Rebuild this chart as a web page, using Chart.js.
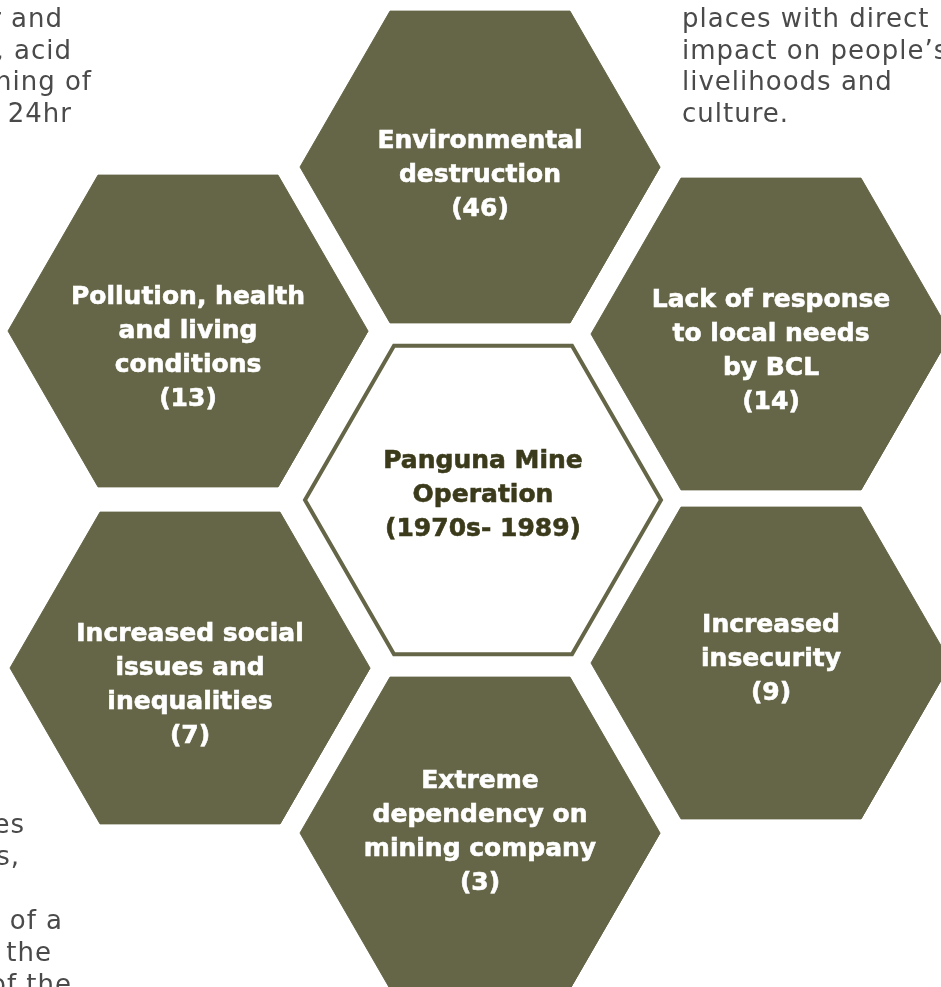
<!DOCTYPE html>
<html>
<head>
<meta charset="utf-8">
<script src="https://cdn.jsdelivr.net/npm/chart.js@4.4.0/dist/chart.umd.min.js"></script>
<style>
  html, body { margin: 0; padding: 0; background: #ffffff; }
  #wrap { width: 941px; height: 987px; position: relative; }
</style>
</head>
<body>
<div id="wrap"><canvas id="hexChart"></canvas></div>
<script>
// Panguna mine impacts - number of mentions per theme
const centreLabel = ['Panguna Mine', 'Operation', '(1970s- 1989)'];
const categories = [
  ['Environmental', 'destruction'],
  ['Lack of response', 'to local needs', 'by BCL'],
  ['Increased', 'insecurity'],
  ['Extreme', 'dependency on', 'mining company'],
  ['Increased social', 'issues and', 'inequalities'],
  ['Pollution, health', 'and living', 'conditions']
];
const mentions = [46, 14, 9, 3, 7, 13];

// body text of the page that is cut off around the figure
const leftTopText = ['r and', 'l, acid', 'ning of', 'd 24hr'];
const rightTopText = ['places with direct', 'impact on people\u2019s', 'livelihoods and', 'culture.'];
const leftBottomText = ['es', 's,', '', 't of a', 'to the', 'of the'];

// layout (axis units = pixels)
const HEX_R = 180;
const LINE_H = 34;
const OLIVE = '#656547';
const centreHex = { x: 483, y: 500, r: 178, textY: 468 };
const hexLayout = [
  { x: 480, y: 167, textY: 148 },
  { x: 771, y: 334, textY: 307 },
  { x: 771, y: 663, textY: 632 },
  { x: 480, y: 833, textY: 788 },
  { x: 190, y: 668, textY: 641 },
  { x: 188, y: 331, textY: 304 }
];

// flat-topped hexagon outline; one extra vertex so the stroke joins cleanly
function hexagon(cx, cy, r) {
  const pts = [];
  for (let i = 0; i <= 7; i++) {
    const a = Math.PI / 3 * (i + 0.5) - Math.PI / 6;
    pts.push({ x: cx + r * Math.cos(a), y: cy + r * Math.sin(a) });
  }
  return pts;
}

const datasets = hexLayout.map((h, i) => ({
  label: categories[i].join(' '),
  data: hexagon(h.x, h.y, HEX_R),
  showLine: true,
  fill: 'shape',
  backgroundColor: OLIVE,
  borderColor: OLIVE,
  borderWidth: 1,
  pointRadius: 0,
  tension: 0
}));

datasets.push({
  label: centreLabel.join(' '),
  data: hexagon(centreHex.x, centreHex.y, centreHex.r),
  showLine: true,
  fill: false,
  borderColor: OLIVE,
  borderWidth: 4,
  borderJoinStyle: 'miter',
  pointRadius: 0,
  tension: 0
});

const hexText = {
  id: 'hexText',
  afterDatasetsDraw(chart) {
    const { ctx, scales: { x, y } } = chart;
    ctx.save();
    ctx.textBaseline = 'alphabetic';
    ctx.textAlign = 'center';
    ctx.font = 'bold 25px "DejaVu Sans"';
    ctx.lineWidth = 0.6;

    ctx.fillStyle = '#ffffff';
    ctx.strokeStyle = '#ffffff';
    hexLayout.forEach((h, i) => {
      const lines = categories[i].concat('(' + mentions[i] + ')');
      lines.forEach((t, j) => {
        const px = x.getPixelForValue(h.x);
        const py = y.getPixelForValue(h.textY + j * LINE_H);
        ctx.fillText(t, px, py);
        ctx.strokeText(t, px, py);
      });
    });

    ctx.fillStyle = '#3b3b1c';
    ctx.strokeStyle = '#3b3b1c';
    centreLabel.forEach((t, j) => {
      const px = x.getPixelForValue(centreHex.x);
      const py = y.getPixelForValue(centreHex.textY + j * LINE_H);
      ctx.fillText(t, px, py);
      ctx.strokeText(t, px, py);
    });

    // surrounding page text
    ctx.font = '26px "DejaVu Sans"';
    ctx.letterSpacing = '1px';
    ctx.fillStyle = '#4a4a4a';
    ctx.textAlign = 'right';
    const ltRight = [63, 72, 92, 72];
    leftTopText.forEach((t, j) => ctx.fillText(t, ltRight[j], 27 + j * 31.7));
    const lbRight = [25, 20, 0, 63, 52, 72];
    leftBottomText.forEach((t, j) => ctx.fillText(t, lbRight[j], 833 + j * 32));
    ctx.textAlign = 'left';
    rightTopText.forEach((t, j) => ctx.fillText(t, 682, 27 + j * 31.7));
    ctx.restore();
  }
};

new Chart(document.getElementById('hexChart'), {
  type: 'scatter',
  data: { datasets },
  options: {
    responsive: true,
    maintainAspectRatio: false,
    animation: false,
    events: [],
    layout: { padding: 0 },
    plugins: {
      legend: { display: false },
      tooltip: { enabled: false }
    },
    scales: {
      x: { type: 'linear', min: 0, max: 941, display: false },
      y: { type: 'linear', min: 0, max: 987, reverse: true, display: false }
    }
  },
  plugins: [hexText]
});
</script>
</body>
</html>
